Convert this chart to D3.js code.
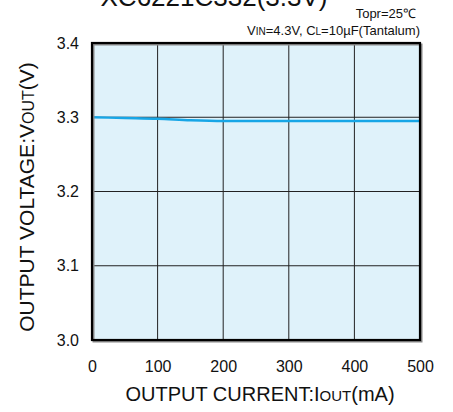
<!DOCTYPE html>
<html>
<head>
<meta charset="utf-8">
<script src="https://cdn.jsdelivr.net/npm/d3@7"></script>
<style>
  body { margin: 0; background: #fff; }
  text { font-family: "Liberation Sans", Arial, sans-serif; fill: #111; }
</style>
</head>
<body>
<div id="chart"></div>
<script>
// data
var currents = [0, 50, 100, 150, 200, 250, 300, 400, 500]
var voltages = [3.300, 3.299, 3.298, 3.296, 3.295, 3.295, 3.295, 3.295, 3.295]
var xTicks = [0, 100, 200, 300, 400, 500]
var yTicks = [3.0, 3.1, 3.2, 3.3, 3.4]

var W = 453, H = 412
var pLeft = 92, pRight = 420, pTop = 43, pBottom = 340

var svg = d3.select("#chart").append("svg").attr("width", W).attr("height", H)

var x = d3.scaleLinear().domain([0, 500]).range([pLeft, pRight])
var y = d3.scaleLinear().domain([3.0, 3.4]).range([pBottom, pTop])

// title (cut off at the top, as in the source)
svg.append("text").attr("x", 214).attr("y", 6).attr("text-anchor", "middle")
   .style("font-size", "26px").text("XC6221C332(3.3V)")

// conditions
svg.append("text").attr("x", 416).attr("y", 18).attr("text-anchor", "end")
   .style("font-size", "13px").text("Topr=25\u2103")
var cond = svg.append("text").attr("x", 420).attr("y", 35).attr("text-anchor", "end").style("font-size", "13px")
cond.append("tspan").text("V")
cond.append("tspan").style("font-size", "10px").text("IN")
cond.append("tspan").text("=4.3V, C")
cond.append("tspan").style("font-size", "10px").text("L")
cond.append("tspan").text("=10\u00b5F(Tantalum)")

// plot background
svg.append("rect").attr("x", pLeft).attr("y", pTop).attr("width", pRight - pLeft).attr("height", pBottom - pTop)
   .attr("fill", "#dff2fa")

// grid
svg.append("g").selectAll("line").data(xTicks.slice(1, -1)).enter().append("line")
   .attr("x1", d => x(d)).attr("x2", d => x(d)).attr("y1", pTop).attr("y2", pBottom)
   .attr("stroke", "#222").attr("stroke-width", 1)
svg.append("g").selectAll("line").data(yTicks.slice(1, -1)).enter().append("line")
   .attr("y1", d => y(d)).attr("y2", d => y(d)).attr("x1", pLeft).attr("x2", pRight)
   .attr("stroke", "#222").attr("stroke-width", 1)

// data line
var line = d3.line().x((d, i) => x(currents[i])).y(d => y(d)).curve(d3.curveMonotoneX)
svg.append("path").datum(voltages).attr("d", line)
   .attr("fill", "none").attr("stroke", "#17a6e6").attr("stroke-width", 2.4)

// frame with a soft shadow
svg.append("rect").attr("x", pLeft + 1.5).attr("y", pTop + 1.5).attr("width", pRight - pLeft).attr("height", pBottom - pTop)
   .attr("fill", "none").attr("stroke", "#888").attr("stroke-width", 2)
svg.append("rect").attr("x", pLeft).attr("y", pTop).attr("width", pRight - pLeft).attr("height", pBottom - pTop)
   .attr("fill", "none").attr("stroke", "#000").attr("stroke-width", 2.2)

// axes
var xAxis = d3.axisBottom(x).tickValues(xTicks).tickSize(0).tickPadding(21).tickFormat(d3.format("d"))
var gx = svg.append("g").attr("transform", "translate(0," + pBottom + ")").call(xAxis)
gx.select(".domain").remove()
gx.selectAll("text").style("font-size", "16px").attr("fill", "#111")

var yAxis = d3.axisLeft(y).tickValues(yTicks).tickSize(0).tickPadding(13).tickFormat(d3.format(".1f"))
var gy = svg.append("g").attr("transform", "translate(" + pLeft + ",0)").call(yAxis)
gy.select(".domain").remove()
gy.selectAll("text").style("font-size", "16px").attr("fill", "#111")

// axis titles
var xt = svg.append("text").attr("x", 260).attr("y", 401).attr("text-anchor", "middle").style("font-size", "20px")
xt.append("tspan").text("OUTPUT CURRENT:I")
xt.append("tspan").style("font-size", "15px").text("OUT")
xt.append("tspan").text("(mA)")

var yt = svg.append("text").attr("transform", "translate(34,197) rotate(-90)").attr("text-anchor", "middle").style("font-size", "21px")
yt.append("tspan").text("OUTPUT VOLTAGE:V")
yt.append("tspan").style("font-size", "16px").text("OUT")
yt.append("tspan").text("(V)")
</script>
</body>
</html>
